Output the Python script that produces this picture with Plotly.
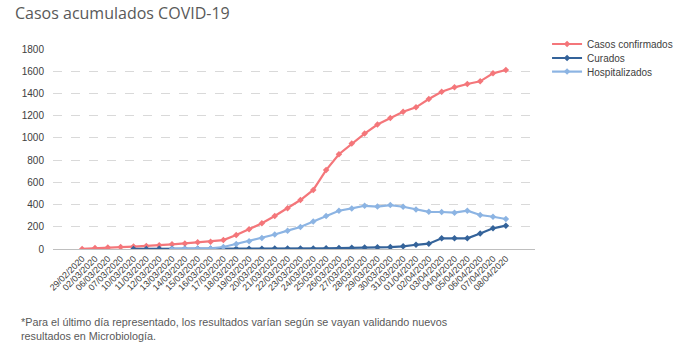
import plotly.graph_objects as go

dates = ["29/02/2020", "02/03/2020", "06/03/2020", "07/03/2020", "10/03/2020",
         "11/03/2020", "12/03/2020", "13/03/2020", "14/03/2020", "15/03/2020",
         "16/03/2020", "17/03/2020", "18/03/2020", "19/03/2020", "20/03/2020",
         "21/03/2020", "22/03/2020", "23/03/2020", "24/03/2020", "25/03/2020",
         "26/03/2020", "27/03/2020", "28/03/2020", "29/03/2020", "30/03/2020",
         "31/03/2020", "01/04/2020", "02/04/2020", "03/04/2020", "04/04/2020",
         "05/04/2020", "06/04/2020", "07/04/2020", "08/04/2020"]

confirmados = [1, 8, 13, 17, 22, 27, 33, 42, 50, 60,
               66, 80, 126, 177, 231, 297, 366, 441, 532, 710,
               853, 949, 1039, 1120, 1178, 1236, 1275, 1350, 1416, 1455,
               1485, 1509, 1581, 1611]

curados = [None, None, None, None, 1, 1, 2, 2, 2, 3,
           3, 3, 3, 3, 3, 4, 4, 5, 5, 6,
           8, 12, 14, 15, 17, 24, 38, 48, 96, 96,
           96, 140, 186, 210]

hospitalizados = [None, None, None, None, None, None, None, 1, 2, 3,
                  5, 18, 45, 70, 100, 130, 165, 198, 248, 296,
                  344, 365, 389, 382, 395, 380, 355, 335, 333, 327,
                  345, 306, 290, 270]

y_ticks = [0, 200, 400, 600, 800, 1000, 1200, 1400, 1600, 1800]

series = [
    ("Casos confirmados", confirmados, "#F4767A", "legend", 1.025),
    ("Curados", curados, "#34639A", "legend2", 0.955),
    ("Hospitalizados", hospitalizados, "#8CB4E3", "legend3", 0.887),
]

fig = go.Figure()
legends = {}
for name, vals, col, lg, ly in series:
    fig.add_trace(go.Scatter(
        x=dates, y=vals, name=name, mode="lines+markers",
        line=dict(color=col, width=2.2),
        marker=dict(color=col, size=5, symbol="diamond"),
        connectgaps=False, legend=lg,
    ))
    legends[lg] = dict(x=1.025, y=ly, xanchor="left", yanchor="middle",
                       font=dict(size=10, color="#404040"),
                       bgcolor="rgba(0,0,0,0)", itemwidth=30)

fig.update_layout(
    width=690, height=349,
    margin=dict(l=53, r=140, t=49, b=100),
    paper_bgcolor="white", plot_bgcolor="white",
    font=dict(family="Liberation Sans, Arial, sans-serif", color="#404040"),
    title=dict(text="Casos acumulados COVID-19", x=15/690, xref="container",
               xanchor="left", y=1-13/349, yref="container", yanchor="middle",
               font=dict(size=16, color="#595959",
                         family="Open Sans, Segoe UI, sans-serif")),
    showlegend=True,
    xaxis=dict(type="category", range=[-2.27, 35.27], tickangle=-45,
               showgrid=False, showline=True, linecolor="#BFBFBF", linewidth=1,
               ticks="", tickfont=dict(size=9, color="#404040"),
               zeroline=False, fixedrange=True),
    yaxis=dict(range=[0, 1800], tickvals=y_ticks, showgrid=True,
               gridcolor="#D9D9D9", griddash="dash", gridwidth=1,
               zeroline=False, showline=False, ticks="",
               tickfont=dict(size=10, color="#404040"), ticklabelstandoff=8),
    annotations=[dict(
        text="*Para el último día representado, los resultados varían según se vayan validando nuevos<br>resultados en Microbiología.",
        xref="paper", yref="paper", x=(18-53)/497, y=(249-314)/200,
        xanchor="left", yanchor="top", align="left", showarrow=False,
        font=dict(size=10.8, color="#595959",
                  family="Liberation Sans, Arial, sans-serif"),
    )],
    **legends,
)

fig.write_html("out.html")
